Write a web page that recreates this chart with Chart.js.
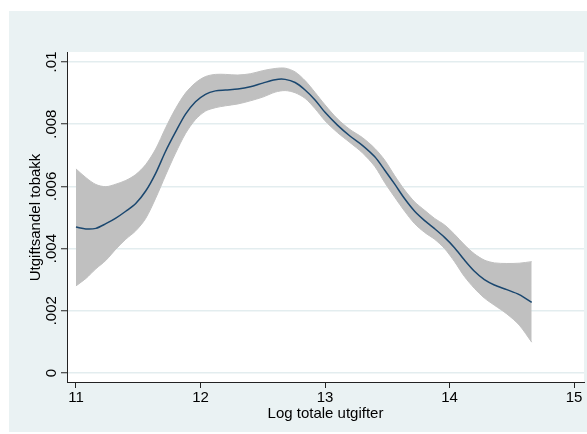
<!DOCTYPE html>
<html>
<head>
<meta charset="utf-8">
<script src="https://cdn.jsdelivr.net/npm/chart.js@4.4.1/dist/chart.umd.min.js"></script>
<style>
  html, body { margin: 0; padding: 0; background: #ffffff; }
  #wrap { width: 587px; height: 434px; }
</style>
</head>
<body>
<div id="wrap"><canvas id="shareChart" width="587" height="434"></canvas></div>
<script>
// Log total expenditure (x) and the smoothed tobacco budget share with its band
const logExp = [11.0, 11.08, 11.16, 11.24, 11.32, 11.40, 11.48, 11.56, 11.64, 11.72, 11.80, 11.88, 11.96,
  12.04, 12.12, 12.20, 12.30, 12.40, 12.50, 12.60, 12.68, 12.76, 12.84, 12.92, 13.00, 13.10, 13.20,
  13.30, 13.40, 13.48, 13.56, 13.64, 13.72, 13.80, 13.88, 13.96, 14.04, 14.12, 14.20, 14.28, 14.36,
  14.46, 14.56, 14.66];

const shareFit = [.00469, .00463, .00465, .00480, .00498, .00520, .00545, .00585, .00642, .00713, .00775, .00832, .00872,
  .00896, .00907, .00910, .00913, .00920, .00932, .00943, .00944, .00934, .00910, .00878, .00838, .00797, .00762,
  .00732, .00695, .00652, .00607, .00560, .00520, .00490, .00464, .00436, .00403, .00363, .00327, .00300, .00283,
  .00268, .00252, .00227];

const shareUpper = [.00656, .00628, .00606, .00599, .00607, .00619, .00638, .00670, .00720, .00788, .00850, .00900, .00933,
  .00953, .00960, .00960, .00958, .00962, .00972, .00979, .00980, .00968, .00940, .00902, .00862, .00817, .00783,
  .00757, .00722, .00684, .00634, .00588, .00550, .00523, .00497, .00476, .00446, .00412, .00383, .00363, .00354,
  .00352, .00353, .00358];

const shareLower = [.00280, .00304, .00335, .00362, .00398, .00430, .00457, .00497, .00562, .00636, .00707, .00770, .00815,
  .00842, .00853, .00859, .00865, .00875, .00887, .00903, .00908, .00901, .00883, .00850, .00811, .00773, .00741,
  .00708, .00664, .00612, .00565, .00520, .00480, .00452, .00430, .00400, .00358, .00310, .00272, .00241, .00218,
  .00190, .00154, .00099];

const xTicks = [11, 12, 13, 14, 15];
const yTicks = [0, .002, .004, .006, .008, .01];
const yTickLabels = ['0', '.002', '.004', '.006', '.008', '.01'];

const xTitle = 'Log totale utgifter';
const yTitle = 'Utgiftsandel tobakk';

const FONT = '"Liberation Sans", Arial, Helvetica, sans-serif';
const ctx = document.getElementById('shareChart').getContext('2d');

const toPoints = (ys) => logExp.map((x, i) => ({ x: x, y: ys[i] }));

// background panel, rotated y labels and both axis titles
const panelPlugin = {
  id: 'panel',
  beforeDraw: (chart) => {
    const { ctx, chartArea } = chart;
    ctx.save();
    ctx.fillStyle = '#ffffff';
    ctx.fillRect(0, 0, chart.width, chart.height);
    ctx.fillStyle = '#EAF2F3';
    ctx.fillRect(9, 11, chart.width - 9, chart.height - 13);
    ctx.fillStyle = '#ffffff';
    ctx.fillRect(chartArea.left, chartArea.top, chartArea.right - chartArea.left, chartArea.bottom - chartArea.top);
    ctx.restore();
  },
  afterDraw: (chart) => {
    const { ctx, chartArea, scales } = chart;
    ctx.save();
    ctx.fillStyle = '#000000';
    ctx.font = '15px ' + FONT;
    ctx.textAlign = 'center';
    ctx.textBaseline = 'alphabetic';
    yTicks.forEach((v, i) => {
      const y = scales.y.getPixelForValue(v);
      ctx.save();
      ctx.translate(56, y);
      ctx.rotate(-Math.PI / 2);
      ctx.fillText(yTickLabels[i], 0, 0);
      ctx.restore();
    });
    ctx.save();
    ctx.translate(40, (scales.y.getPixelForValue(0) + scales.y.getPixelForValue(.01)) / 2);
    ctx.rotate(-Math.PI / 2);
    ctx.fillText(yTitle, 0, 0);
    ctx.restore();
    ctx.fillText(xTitle, (chartArea.left + chartArea.right) / 2, 418);
    ctx.restore();
  }
};

// dataset 0 is painted last, so the fitted line goes first
const shareChart = new Chart(ctx, {
  type: 'line',
  data: {
    datasets: [
      {
        label: 'fit',
        data: toPoints(shareFit),
        borderColor: '#1A476F',
        borderWidth: 1.5,
        pointRadius: 0,
        tension: 0.3,
        fill: false
      },
      {
        label: 'upper',
        data: toPoints(shareUpper),
        borderColor: '#C0C0C0',
        backgroundColor: '#C0C0C0',
        borderWidth: 1,
        pointRadius: 0,
        tension: 0.3,
        fill: '+1'
      },
      {
        label: 'lower',
        data: toPoints(shareLower),
        borderColor: '#C0C0C0',
        borderWidth: 1,
        pointRadius: 0,
        tension: 0.3,
        fill: false
      }
    ]
  },
  options: {
    responsive: false,
    animation: false,
    events: [],
    layout: {
      padding: { top: 52, right: 3, bottom: 0, left: 0 }
    },
    plugins: {
      legend: { display: false },
      tooltip: { enabled: false }
    },
    scales: {
      x: {
        type: 'linear',
        min: 10.928,
        max: 15.08,
        afterBuildTicks: (scale) => { scale.ticks = xTicks.map(v => ({ value: v })); },
        afterFit: (scale) => { scale.height = 52; },
        ticks: {
          color: '#000000',
          padding: 1,
          maxRotation: 0,
          autoSkip: false,
          font: { family: FONT, size: 15 },
          callback: (v) => String(v)
        },
        grid: {
          drawOnChartArea: false,
          drawTicks: true,
          tickLength: 6,
          tickColor: '#222222',
          tickWidth: 1
        },
        border: { display: true, color: '#222222', width: 1 }
      },
      y: {
        type: 'linear',
        min: -0.00029,
        max: 0.01032,
        afterBuildTicks: (scale) => { scale.ticks = yTicks.map(v => ({ value: v })); },
        afterFit: (scale) => { scale.width = 67; },
        ticks: { display: false },
        grid: {
          color: '#E3EDEF',
          lineWidth: 1.5,
          drawTicks: true,
          tickLength: 6,
          tickColor: '#222222',
          tickWidth: 1
        },
        border: { display: true, color: '#222222', width: 1 }
      }
    }
  },
  plugins: [panelPlugin]
});
</script>
</body>
</html>
